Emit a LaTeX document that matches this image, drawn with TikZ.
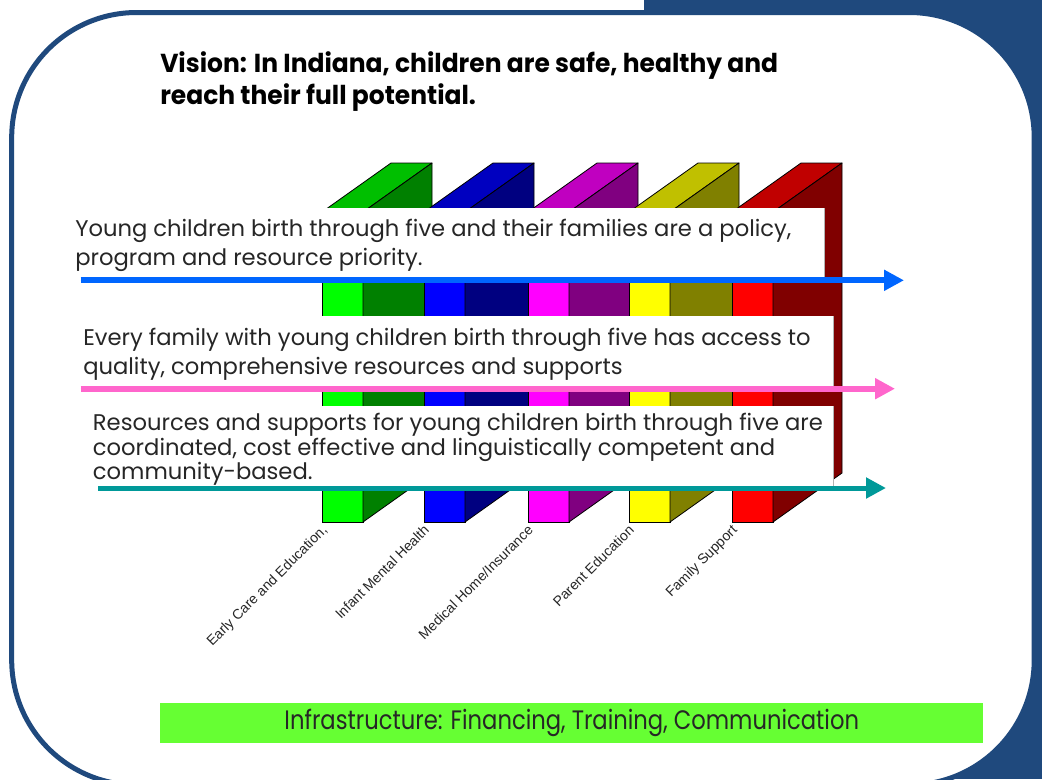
\documentclass[tikz,border=0pt]{standalone}
\usepackage{fontspec}
\setmainfont{Poppins}
\newfontfamily\boxfont[FakeStretch=1.0]{Poppins}
\newfontfamily\titlefont[FakeStretch=0.96]{Poppins}
\newfontfamily\barfont[FakeStretch=0.85]{Poppins}
\newfontfamily\labfont{Liberation Sans}
\usetikzlibrary{arrows.meta}
\definecolor{frameblue}{HTML}{1F497D}
\definecolor{gF}{HTML}{00FF00}\definecolor{gT}{HTML}{00BF00}\definecolor{gS}{HTML}{008000}
\definecolor{bF}{HTML}{0000FF}\definecolor{bT}{HTML}{0000C0}\definecolor{bS}{HTML}{000080}
\definecolor{mF}{HTML}{FF00FF}\definecolor{mT}{HTML}{C000C0}\definecolor{mS}{HTML}{800080}
\definecolor{yF}{HTML}{FFFF00}\definecolor{yT}{HTML}{C0C000}\definecolor{yS}{HTML}{808000}
\definecolor{rF}{HTML}{FF0000}\definecolor{rT}{HTML}{C00000}\definecolor{rS}{HTML}{800000}
\definecolor{arrBlue}{HTML}{0066FF}
\definecolor{arrPink}{HTML}{FF66CC}
\definecolor{arrTeal}{HTML}{009999}
\definecolor{barGreen}{HTML}{66FF33}
\definecolor{txt}{HTML}{262626}
\begin{document}
\begin{tikzpicture}[x=0.75pt,y=-0.75pt,
  frontface/.style={draw=black,line width=0.6pt,minimum width=30.75pt,minimum height=232.5pt,inner sep=0pt,outer sep=0pt,anchor=north west},
  face/.style={draw=black,line width=0.6pt,line join=round},
  pillarlabel/.style={font=\labfont\fontsize{10.5}{12}\selectfont,text=black!85,anchor=base east,rotate=45,inner sep=0pt},
  textbox/.style={fill=white,draw=none,inner sep=0pt,outer sep=0pt,anchor=north west},
  boxedge/.style={draw=black!30,line width=0.6pt},
  boxtext/.style={anchor=base west,inner sep=0pt,text=txt,font=\boxfont\fontsize{17}{21.75}\selectfont},
  goalarrow/.style={line width=4.5pt,-{Triangle[length=15pt,width=15pt]}},
]
\useasboundingbox (0,0) rectangle (1042,779);
\clip (0,0) rectangle (1042,779);
% frame
\fill[frameblue] (644,0) rectangle (1042,779);
\draw[line width=3.75pt,draw=frameblue,fill=white,rounded corners=93.75pt] (11.7,12.5) rectangle (1034.2,785);
% title
\node[anchor=base west,inner sep=0pt,font=\titlefont\bfseries\fontsize{19.5}{24.2}\selectfont] (title) at (160,72.7)
  {\begin{tabular}[t]{@{}l@{}}Vision: In Indiana, children are safe, healthy and\\reach their full potential.\end{tabular}};
% pillars
\foreach \i/\x/\cf/\ct/\cs/\lab in {1/322/gF/gT/gS/{Early Care and Education,},2/424/bF/bT/bS/{Infant Mental Health},3/528/mF/mT/mS/{Medical Home/Insurance},4/629/yF/yT/yS/{Parent Education},5/732/rF/rT/rS/{Family Support}}{
  \node[frontface,fill=\cf] (p\i) at (\x,212) {};
  \draw[face,fill=\ct] (p\i.north west) -- ++(69,-49) -- ++(41,0) -- (p\i.north east) -- cycle;
  \draw[face,fill=\cs] (p\i.north east) -- ++(69,-49) -- ++(0,310) -- (p\i.south east) -- cycle;
  \node[pillarlabel] (l\i) at ([shift={(6,9)}]p\i.south west) {\lab};
}
% text boxes
\node[textbox,minimum width=567pt,minimum height=53.25pt] (b1) at (68,208) {};
\node[textbox,minimum width=566.25pt,minimum height=54.75pt] (b2) at (78,316) {};
\node[textbox,minimum width=558.75pt,minimum height=60pt] (b3) at (88,406) {};
\draw[boxedge] (b1.north east) -- (b1.south east);
\draw[boxedge] (b2.north east) -- (b2.south east);
\draw[boxedge] (b3.north east) -- (b3.south east);
\node[boxtext] (t1) at (75,236.7) {\begin{tabular}[t]{@{}l@{}}Young children birth through five and their families are a policy,\\program and resource priority.\end{tabular}};
\node[boxtext] (t2) at (83,345.7) {\begin{tabular}[t]{@{}l@{}}Every family with young children birth through five has access to\\quality, comprehensive resources and supports\end{tabular}};
\node[boxtext,font=\boxfont\fontsize{17}{17.6}\selectfont] (t3) at (92.7,430.7) {\begin{tabular}[t]{@{}l@{}}Resources and supports for young children birth through five are\\coordinated, cost effective and linguistically competent and\\community-based.\end{tabular}};
% arrows
\coordinate (a1s) at (80.7,280.3); \coordinate (a1e) at (904,280.3);
\coordinate (a2s) at (80.7,388.7); \coordinate (a2e) at (895,388.7);
\coordinate (a3s) at (98.3,488);   \coordinate (a3e) at (886,488);
\draw[goalarrow,draw=arrBlue,fill=arrBlue] (a1s) -- (a1e);
\draw[goalarrow,draw=arrPink,fill=arrPink] (a2s) -- (a2e);
\draw[goalarrow,line width=3.75pt,draw=arrTeal,fill=arrTeal] (a3s) -- (a3e);
% infrastructure bar
\node[fill=barGreen,minimum width=617.25pt,minimum height=30pt,inner sep=0pt,anchor=north west,text=txt,font=\barfont\fontsize{20}{22}\selectfont] (bar) at (160,703) {Infrastructure: Financing, Training, Communication};
\end{tikzpicture}
\end{document}
